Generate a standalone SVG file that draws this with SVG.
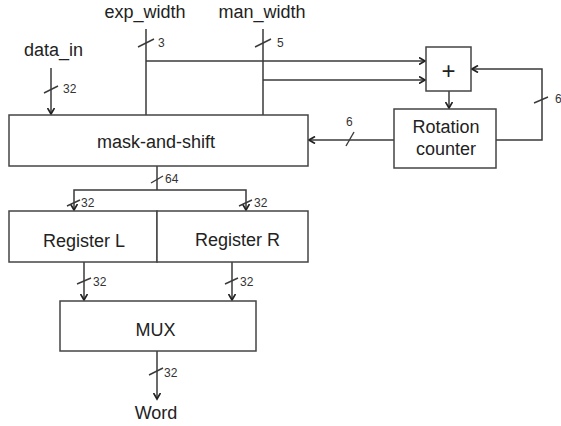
<svg xmlns="http://www.w3.org/2000/svg" width="561" height="426" viewBox="0 0 561 426">
<defs>
<style>
.box{fill:#fff;stroke:#444;stroke-width:1.5}
.ln{fill:none;stroke:#3a3a3a;stroke-width:1.5}
.sl{fill:none;stroke:#3a3a3a;stroke-width:1.4}
.lbl{font-family:"Liberation Sans",Arial,sans-serif;font-size:18px;fill:#222;text-anchor:middle}
.num{font-family:"Liberation Sans",Arial,sans-serif;font-size:12px;fill:#333}
</style>
<marker id="ah" viewBox="0 0 8 8" refX="6.5" refY="4" markerWidth="8" markerHeight="8" markerUnits="userSpaceOnUse" orient="auto">
<path d="M0.5,0.5 L6.5,4 L0.5,7.5" fill="none" stroke="#222" stroke-width="1.7"/>
</marker>
</defs>
<rect width="561" height="426" fill="#fff"/>

<g id="connectors">
<path class="ln" d="M51,68 V114" marker-end="url(#ah)"/>
<path class="ln" d="M146,29 V115"/>
<path class="ln" d="M146,61 H425" marker-end="url(#ah)"/>
<path class="ln" d="M263,29 V115"/>
<path class="ln" d="M263,80 H425" marker-end="url(#ah)"/>
<path class="ln" d="M449,91 V108" marker-end="url(#ah)"/>
<path class="ln" d="M394,140 H309" marker-end="url(#ah)"/>
<path class="ln" d="M496,140 H542 V69 H472" marker-end="url(#ah)"/>
<path class="ln" d="M157,166 V190"/>
<path class="ln" d="M157,190 H74 V210" marker-end="url(#ah)"/>
<path class="ln" d="M157,190 H246 V210" marker-end="url(#ah)"/>
<path class="ln" d="M84,262 V300" marker-end="url(#ah)"/>
<path class="ln" d="M232,262 V300" marker-end="url(#ah)"/>
<path class="ln" d="M157,351 V399" marker-end="url(#ah)"/>
<!-- bus width slashes -->
<path class="sl" d="M44,93 L58,86"/>
<path class="sl" d="M138,47 L154,39"/>
<path class="sl" d="M255,47 L271,39"/>
<path class="sl" d="M346,146 L354,132"/>
<path class="sl" d="M534,103 L548,97"/>
<path class="sl" d="M151,183 L163,176"/>
<path class="sl" d="M67,206 L80,200"/>
<path class="sl" d="M239,206 L252,200"/>
<path class="sl" d="M77,284 L91,278"/>
<path class="sl" d="M225,284 L238,278"/>
<path class="sl" d="M149,375 L163,368"/>
<text class="num" x="63" y="93">32</text>
<text class="num" x="158" y="47">3</text>
<text class="num" x="277" y="47">5</text>
<text class="num" x="346" y="126">6</text>
<text class="num" x="555" y="103">6</text>
<text class="num" x="165" y="183">64</text>
<text class="num" x="81" y="207">32</text>
<text class="num" x="254" y="207">32</text>
<text class="num" x="93" y="286">32</text>
<text class="num" x="240" y="286">32</text>
<text class="num" x="164" y="377">32</text>
</g>

<g id="data_in"><text class="lbl" x="53.5" y="56">data_in</text></g>
<g id="exp_width"><text class="lbl" x="145" y="18">exp_width</text></g>
<g id="man_width"><text class="lbl" x="262" y="18">man_width</text></g>

<g id="mask_and_shift">
<rect class="box" x="9" y="115" width="299" height="51"/>
<text class="lbl" x="156" y="148">mask-and-shift</text>
</g>

<g id="adder">
<rect class="box" x="426" y="47" width="45" height="44"/>
<text class="lbl" x="448.5" y="79" style="font-size:24px">+</text>
</g>

<g id="rotation_counter">
<rect class="box" x="394" y="109" width="102" height="59"/>
<text class="lbl" x="446" y="132.5">Rotation</text>
<text class="lbl" x="446" y="155">counter</text>
</g>

<g id="register_l">
<rect class="box" x="9" y="211" width="148" height="51"/>
<text class="lbl" x="84" y="247">Register L</text>
</g>

<g id="register_r">
<rect class="box" x="157" y="211" width="151" height="51"/>
<text class="lbl" x="237.5" y="246">Register R</text>
</g>

<g id="mux">
<rect class="box" x="60" y="301" width="196" height="50"/>
<text class="lbl" x="155.5" y="335.5">MUX</text>
</g>

<g id="word"><text class="lbl" x="156" y="419">Word</text></g>
</svg>
